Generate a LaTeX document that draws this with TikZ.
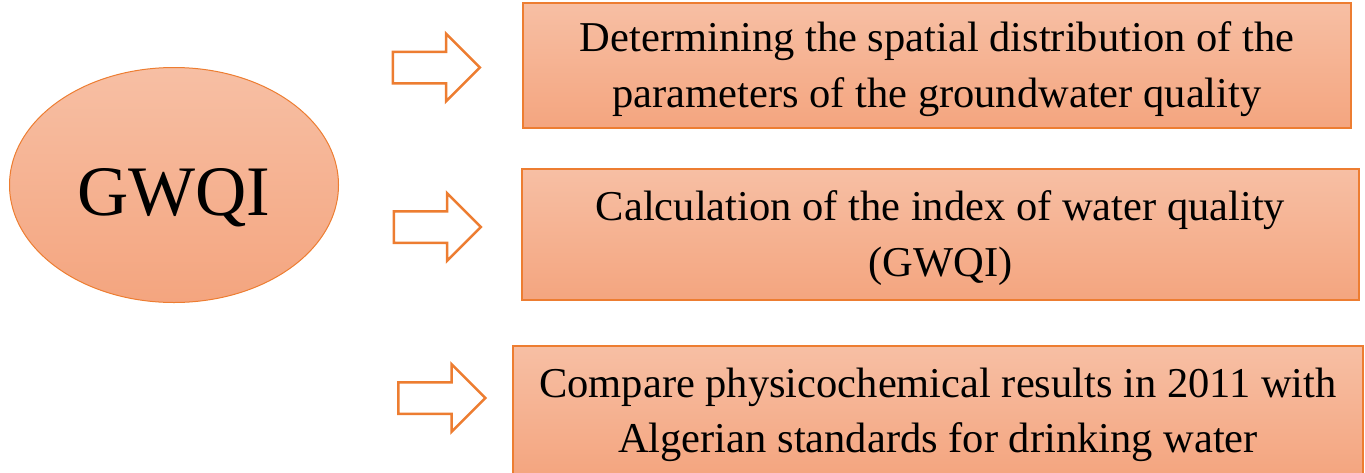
\documentclass[tikz,border=0pt]{standalone}
\usepackage{fontspec}
\setmainfont{Liberation Serif}
\usetikzlibrary{shapes.geometric,shapes.arrows}

\definecolor{peachtop}{RGB}{247,191,164}
\definecolor{peachbot}{RGB}{244,165,127}
\definecolor{orangeline}{RGB}{237,125,49}

\begin{document}
\begin{tikzpicture}[x=1pt, y=-1pt,
  stepbox/.style={rectangle, draw=orangeline, line width=1.5pt,
    top color=peachtop, bottom color=peachbot, inner sep=0pt,
    align=center, font=\fontsize{42.5}{55.5}\selectfont,
    text height=92pt, text depth=9pt},
  pointer/.style={single arrow, draw=orangeline, line width=2.5pt, fill=white,
    minimum height=87pt, inner xsep=0pt, inner ysep=14.5pt,
    single arrow head extend=18pt}]
  \useasboundingbox (0,0) rectangle (1365,472);
  % index
  \node[ellipse, draw=orangeline, line width=1pt, top color=peachtop,
    bottom color=peachbot, minimum width=329pt, minimum height=235pt,
    inner sep=0pt, font=\fontsize{71}{80}\selectfont,
    text height=60pt, text depth=0pt] (gwqi) at (174,185) {GWQI};
  % arrows
  \node[pointer] (a1) at (428.5,67.5) {};
  \node[pointer] (a2) at (429.5,227) {};
  \node[pointer] (a3) at (434,398) {};
  % steps
  \node[stepbox, minimum width=828pt, minimum height=125pt] (s1) at (937,65.5)
    {Determining the spatial distribution of the\\parameters of the groundwater quality};
  \node[stepbox, minimum width=837pt, minimum height=131pt] (s2) at (940.5,234.5)
    {Calculation of the index of water quality\\(GWQI)};
  \node[stepbox, minimum width=850pt, minimum height=130pt] (s3) at (938,411)
    {Compare physicochemical results in 2011 with\\Algerian standards for drinking water};
\end{tikzpicture}
\end{document}
